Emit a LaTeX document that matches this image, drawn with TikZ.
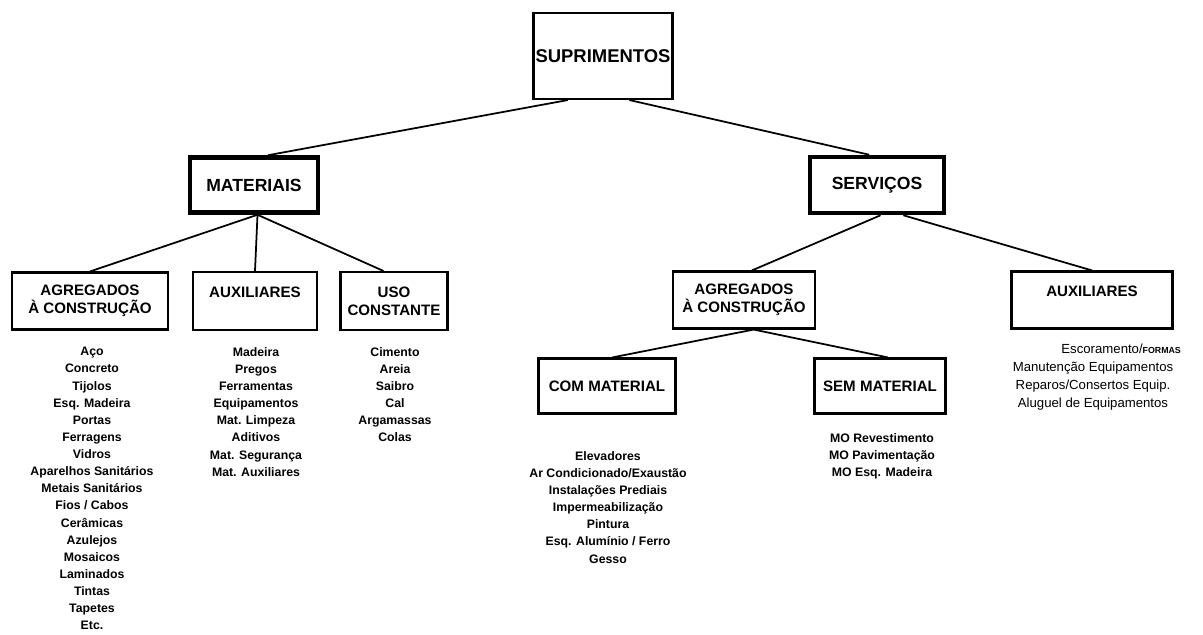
\documentclass[tikz,border=0pt]{standalone}
\usepackage{fontspec}
\setmainfont{Liberation Sans}
\usetikzlibrary{positioning}

\tikzset{
  caixa/.style={draw, line width=1.2pt, align=center, inner sep=0pt,
    font=\bfseries\fontsize{8.6}{10.2}\selectfont},
  caixagrossa/.style={caixa, line width=2.6pt, font=\bfseries\fontsize{10}{12}\selectfont},
  lista/.style={align=center, anchor=north, inner sep=0pt,
    font=\bfseries\fontsize{7}{9.75}\selectfont},
  liga/.style={line width=1pt}
}

\begin{document}
\begin{tikzpicture}[x=0.02cm, y=-0.02cm]
    \useasboundingbox (0,0) rectangle (1203,635);

    \node[caixa, minimum width=2.78cm, minimum height=1.72cm, font=\bfseries\fontsize{10.5}{12}\selectfont] (sup) at (603,56) {SUPRIMENTOS};
    \node[caixagrossa, minimum width=2.56cm, minimum height=1.1cm] (mat) at (254,185) {MATERIAIS};
    \node[caixagrossa, minimum width=2.68cm, minimum height=1.12cm] (ser) at (877,185) {SERVIÇOS};

    \node[caixa, minimum width=3.12cm, minimum height=1.14cm] (agl) at (90,301) {AGREGADOS\\À CONSTRUÇÃO};
    \node[caixa, minimum width=2.48cm, minimum height=1.16cm] (auxl) at (255,301) {AUXILIARES\\\phantom{A}};
    \node[caixa, minimum width=2.14cm, minimum height=1.16cm] (uso) at (394,301) {USO\\CONSTANTE};
    \node[caixa, minimum width=2.84cm, minimum height=1.14cm] (agr) at (744,300) {AGREGADOS\\À CONSTRUÇÃO};
    \node[caixa, minimum width=3.22cm, minimum height=1.14cm] (auxr) at (1092,300) {AUXILIARES\\\phantom{A}};
    \node[caixa, minimum width=2.74cm, minimum height=1.1cm] (com) at (607,386) {COM MATERIAL};
    \node[caixa, minimum width=2.62cm, minimum height=1.1cm] (sem) at (880,386) {SEM MATERIAL};

    \draw[liga] ([xshift=-20pt]sup.south) -- ([xshift=8pt]mat.north);
    \draw[liga] ([xshift=15pt]sup.south) -- ([xshift=-4.5pt]ser.north);
    \draw[liga] ([xshift=2pt]mat.south) -- (agl.north);
    \draw[liga] ([xshift=2pt]mat.south) -- (auxl.north);
    \draw[liga] ([xshift=2pt]mat.south) -- ([xshift=-6pt]uso.north);
    \draw[liga] ([xshift=2pt]ser.south) -- ([xshift=4.5pt]agr.north);
    \draw[liga] ([xshift=15pt]ser.south) -- (auxr.north);
    \draw[liga] ([xshift=5.5pt]agr.south) -- ([xshift=3pt]com.north);
    \draw[liga] ([xshift=5.5pt]agr.south) -- ([xshift=4.5pt]sem.north);

    \node[lista] (lagl) at (92,347) {Aço\\Concreto\\Tijolos\\Esq. Madeira\\Portas\\Ferragens\\Vidros\\Aparelhos Sanitários\\Metais Sanitários\\Fios / Cabos\\Cerâmicas\\Azulejos\\Mosaicos\\Laminados\\Tintas\\Tapetes\\Etc.};
    \node[lista] (lauxl) at (256,347) {Madeira\\Pregos\\Ferramentas\\Equipamentos\\Mat. Limpeza\\Aditivos\\Mat. Segurança\\Mat. Auxiliares};
    \node[lista] (luso) at (395,347) {Cimento\\Areia\\Saibro\\Cal\\Argamassas\\Colas};
    \node[lista] (lcom) at (608,451) {Elevadores\\Ar Condicionado/Exaustão\\Instalações Prediais\\Impermeabilização\\Pintura\\Esq. Alumínio / Ferro\\Gesso};
    \node[lista] (lsem) at (882,433) {MO Revestimento\\MO Pavimentação\\MO Esq. Madeira};
    \node[lista, font=\fontsize{7.5}{10.2}\selectfont] (lauxr) at (1093,344) {\hspace*{32pt}Escoramento/{\fontsize{5}{6}\selectfont\bfseries FORMAS}\\Manutenção Equipamentos\\Reparos/Consertos Equip.\\Aluguel de Equipamentos};
\end{tikzpicture}
\end{document}
